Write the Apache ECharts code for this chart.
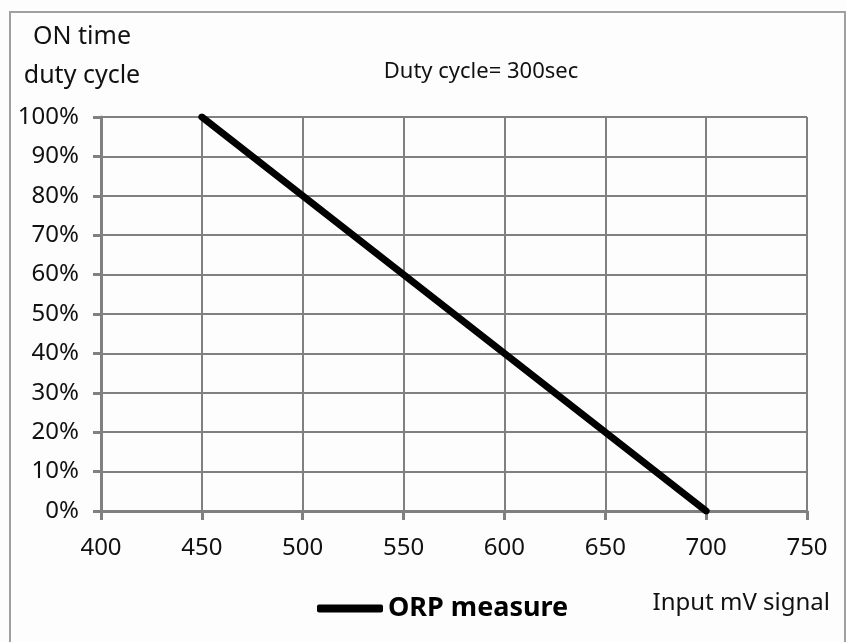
<!DOCTYPE html>
<html><head><meta charset="utf-8">
<script src="https://cdn.jsdelivr.net/npm/echarts@6/dist/echarts.min.js"></script>
<style>html,body{margin:0;padding:0;background:#fff}#c{width:846px;height:642px}</style>
</head><body><div id="c"></div>
<script>
const xTicks = [400, 450, 500, 550, 600, 650, 700, 750];
const yTicks = [0, 0.1, 0.2, 0.3, 0.4, 0.5, 0.6, 0.7, 0.8, 0.9, 1.0];
const seriesName = 'ORP measure';
const mvValues = [450, 700];
const dutyValues = [1.0, 0.0];

const FONT = '"Noto Sans", sans-serif';
const grid = '#808080';
const chart = echarts.init(document.getElementById('c'), null, {renderer: 'canvas'});
chart.setOption({
  backgroundColor: '#fdfdfd',
  animation: false,
  textStyle: {fontFamily: FONT},
  graphic: [
    {type: 'rect', shape: {x: 10, y: 12, width: 835, height: 640}, style: {fill: 'none', stroke: '#a0a0a0', lineWidth: 2}},
    {type: 'text', x: 82, y: 37, style: {text: 'ON time', font: '25px ' + FONT, fill: '#111', align: 'center', verticalAlign: 'middle'}},
    {type: 'text', x: 82, y: 76, style: {text: 'duty cycle', font: '25px ' + FONT, fill: '#111', align: 'center', verticalAlign: 'middle'}},
    {type: 'text', x: 481, y: 72, style: {text: 'Duty cycle= 300sec', font: '22px ' + FONT, fill: '#111', align: 'center', verticalAlign: 'middle'}},
    {type: 'text', x: 830, y: 603, style: {text: 'Input mV signal', font: '24px ' + FONT, fill: '#111', align: 'right', verticalAlign: 'middle'}}
  ],
  grid: {left: 101, right: 39, top: 117, bottom: 131, containLabel: false},
  legend: {
    data: [{name: seriesName, icon: 'roundRect'}], left: 312, top: 590, itemWidth: 66, itemHeight: 8,
    textStyle: {fontFamily: FONT, fontSize: 27, fontWeight: 'bold', color: '#000'},
    itemGap: 8
  },
  xAxis: {
    type: 'value', min: 400, max: 750, interval: 50,
    axisLine: {show: true, lineStyle: {color: grid, width: 3}},
    axisTick: {show: true, length: 9, lineStyle: {color: grid, width: 3}},
    splitLine: {show: true, lineStyle: {color: grid, width: 2}},
    axisLabel: {fontFamily: FONT, fontSize: 24, color: '#111', margin: 25}
  },
  yAxis: {
    type: 'value', min: 0, max: 1, interval: 0.1,
    axisLine: {show: true, lineStyle: {color: grid, width: 3}},
    axisTick: {show: true, length: 8, lineStyle: {color: grid, width: 3}},
    splitLine: {show: true, lineStyle: {color: grid, width: 2}},
    axisLabel: {fontFamily: FONT, fontSize: 24, color: '#111', margin: 22,
      formatter: v => Math.round(v * 100) + '%'}
  },
  series: [{
    name: seriesName, type: 'line', showSymbol: false, symbol: 'none',
    data: mvValues.map((x, i) => [x, dutyValues[i]]),
    lineStyle: {color: '#000', width: 7, cap: 'round'},
    itemStyle: {color: '#000'}
  }]
});
</script></body></html>
